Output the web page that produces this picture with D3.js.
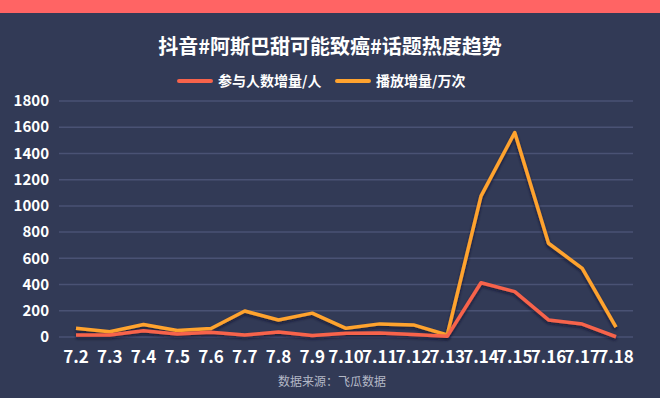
<!DOCTYPE html>
<html>
<head>
<meta charset="utf-8">
<script src="https://cdn.jsdelivr.net/npm/d3@7"></script>
<style>
  body { margin: 0; background: #323a56; }
  svg { display: block; font-family: "Noto Sans CJK SC", "Noto Sans", sans-serif; }
</style>
</head>
<body>
<svg id="chart" width="660" height="398"></svg>
<script>
var dates = ["7.2","7.3","7.4","7.5","7.6","7.7","7.8","7.9","7.10","7.11","7.12","7.13","7.14","7.15","7.16","7.17","7.18"];
var people = [15, 15, 48, 23, 36, 15, 38, 12, 28, 30, 20, 5, 414, 346, 130, 99, 2];
var plays = [66, 40, 95, 50, 65, 198, 130, 182, 66, 100, 92, 15, 1075, 1560, 715, 524, 76];
var yTicks = [0, 200, 400, 600, 800, 1000, 1200, 1400, 1600, 1800];
var seriesNames = ["参与人数增量/人", "播放增量/万次"];
var colors = ["#f7634b", "#ffa32f"];

var svg = d3.select("#chart");
var W = 660, H = 398;

svg.append("rect").attr("width", W).attr("height", H).attr("fill", "#323a56");
svg.append("rect").attr("width", W).attr("height", 13).attr("fill", "#ff6464");

// shadow under lines
var defs = svg.append("defs");
var f = defs.append("filter").attr("id", "shadow").attr("x", "-10%").attr("y", "-10%").attr("width", "120%").attr("height", "130%");
f.append("feDropShadow").attr("dx", 0).attr("dy", 2).attr("stdDeviation", 1.5)
  .attr("flood-color", "#101425").attr("flood-opacity", 0.7);

var x = d3.scalePoint().domain(dates).range([76, 616]);
var y = d3.scaleLinear().domain([0, 1800]).range([337, 101]);

// grid
svg.append("g").selectAll("line").data(yTicks).join("line")
  .attr("x1", 59).attr("x2", 633)
  .attr("y1", d => y(d)).attr("y2", d => y(d))
  .attr("stroke", "#4a5274").attr("stroke-width", 1.5);

// y labels
svg.append("g").selectAll("text").data(yTicks).join("text")
  .attr("x", 49).attr("y", d => y(d)).attr("dy", "0.35em")
  .attr("text-anchor", "end").attr("fill", "#fff")
  .attr("font-size", 15).attr("font-weight", "bold")
  .text(d => d);

// x labels
svg.append("g").selectAll("text").data(dates).join("text")
  .attr("x", d => x(d)).attr("y", 363)
  .attr("text-anchor", "middle").attr("fill", "#fff")
  .attr("font-size", 17).attr("font-weight", "bold")
  .text(d => d);

var line = d3.line().x((d, i) => x(dates[i])).y(d => y(d));

[plays, people].forEach(function(s, k) {
  svg.append("path").datum(s)
    .attr("d", line)
    .attr("fill", "none")
    .attr("stroke", k == 0 ? colors[1] : colors[0])
    .attr("stroke-width", 3.5)
    .attr("stroke-linejoin", "round")
    .attr("filter", "url(#shadow)");
});

// title
svg.append("text").attr("x", 330).attr("y", 54)
  .attr("text-anchor", "middle").attr("fill", "#fff")
  .attr("font-size", 20).attr("font-weight", "bold")
  .text("抖音#阿斯巴甜可能致癌#话题热度趋势");

// legend
var legendX = [179, 337];
var lg = svg.append("g").selectAll("g").data(seriesNames).join("g")
  .attr("transform", (d, i) => "translate(" + legendX[i] + ",81)");
lg.append("line").attr("x1", 0).attr("x2", 32)
  .attr("stroke", (d, i) => colors[i]).attr("stroke-width", 4).attr("stroke-linecap", "round");
lg.append("text").attr("x", 39).attr("dy", "0.35em")
  .attr("fill", "#fff").attr("font-size", 14).attr("font-weight", "bold")
  .text(d => d);

// source
svg.append("text").attr("x", 332).attr("y", 386)
  .attr("text-anchor", "middle").attr("fill", "#b4b8c6")
  .attr("font-size", 12)
  .text("数据来源：飞瓜数据");
</script>
</body>
</html>
